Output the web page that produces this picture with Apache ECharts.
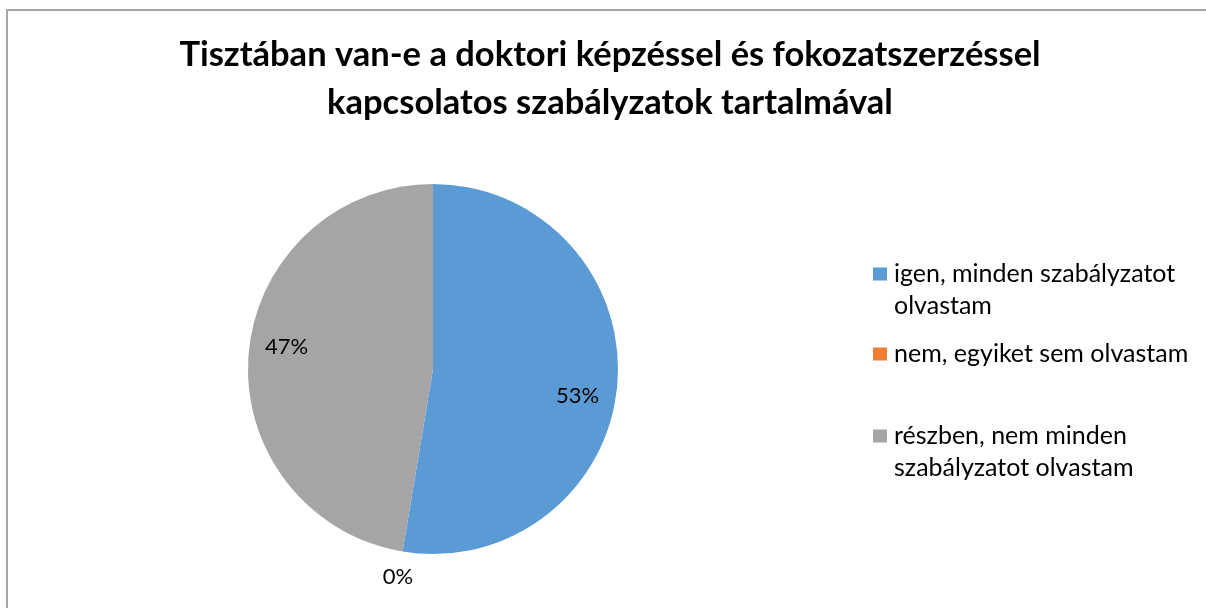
<!DOCTYPE html>
<html>
<head>
<meta charset="utf-8">
<script src="https://cdn.jsdelivr.net/npm/echarts@6/dist/echarts.min.js"></script>
<style>
  html, body { margin: 0; padding: 0; background: #fff; }
  #chart { width: 1206px; height: 608px; }
</style>
</head>
<body>
<div id="chart"></div>
<script>
// adatok
const categories = [
    'igen, minden szabályzatot olvastam',
    'nem, egyiket sem olvastam',
    'részben, nem minden szabályzatot olvastam'
];
const values = [10, 0, 9];
const colors = ['#5B9BD5', '#ED7D31', '#A5A5A5'];
// legend feliratok tördelve (az első sor az ikonhoz igazodik)
const legendLabels = [
    ' \nigen, minden szabályzatot\nolvastam',
    'nem, egyiket sem olvastam',
    ' \nrészben, nem minden\nszabályzatot olvastam'
];
const legendTops = [226, 338, 388];

const chart = echarts.init(document.getElementById('chart'));
const font = 'Lato, "Open Sans", sans-serif';

const legends = categories.map((name, i) => ({
    data: [name],
    orient: 'vertical',
    left: 873,
    top: legendTops[i],
    padding: 0,
    itemWidth: 14,
    itemHeight: 13,
    icon: 'rect',
    selectedMode: false,
    formatter: () => legendLabels[i],
    textStyle: { fontFamily: font, fontSize: 25, color: '#000', lineHeight: 32, padding: [0, 0, 0, 2] }
}));

const pct = p => Math.round(p.percent) + '%';

chart.setOption({
    animation: false,
    color: colors,
    title: {
        text: 'Tisztában van-e a doktori képzéssel és fokozatszerzéssel\nkapcsolatos szabályzatok tartalmával',
        left: 610,
        textAlign: 'center',
        top: 31,
        padding: 0,
        textStyle: { fontFamily: font, fontSize: 34.5, fontWeight: 'bold', color: '#000', lineHeight: 48 }
    },
    legend: legends,
    graphic: [{
        type: 'rect',
        shape: { x: 7, y: 10, width: 1300, height: 700 },
        style: { fill: 'none', stroke: '#a6a6a6', lineWidth: 2 },
        silent: true
    }],
    series: [{
        type: 'pie',
        center: [433, 369],
        radius: [0, 185],
        startAngle: 90,
        clockwise: true,
        itemStyle: { borderWidth: 0 },
        label: { show: false },
        labelLine: { show: false },
        data: categories.map((name, i) => ({
            name,
            value: values[i],
            label: values[i] === 0 ? {
                show: true, position: 'outside', formatter: pct,
                fontFamily: font, fontSize: 22, color: '#000'
            } : { show: false },
            labelLine: { show: false, length: 10, length2: 0 }
        })),
        labelLayout: p => p.dataIndex === 1 ? { dy: 16, dx: 2, align: 'center' } : {}
    }, {
        // átlátszó gyűrű a belső címkékhez
        type: 'pie',
        center: [433, 369],
        radius: [103, 185],
        startAngle: 90,
        clockwise: true,
        silent: true,
        itemStyle: { color: 'rgba(0,0,0,0)', borderWidth: 0 },
        labelLine: { show: false },
        data: categories.map((name, i) => ({
            name,
            value: values[i],
            label: {
                show: values[i] > 0, position: 'inside', formatter: pct,
                fontFamily: font, fontSize: 22, color: '#000'
            }
        })),
        labelLayout: p => p.dataIndex === 0 ? { dy: 15, dx: -2 } : (p.dataIndex === 2 ? { dy: -10 } : {})
    }]
});
</script>
</body>
</html>
